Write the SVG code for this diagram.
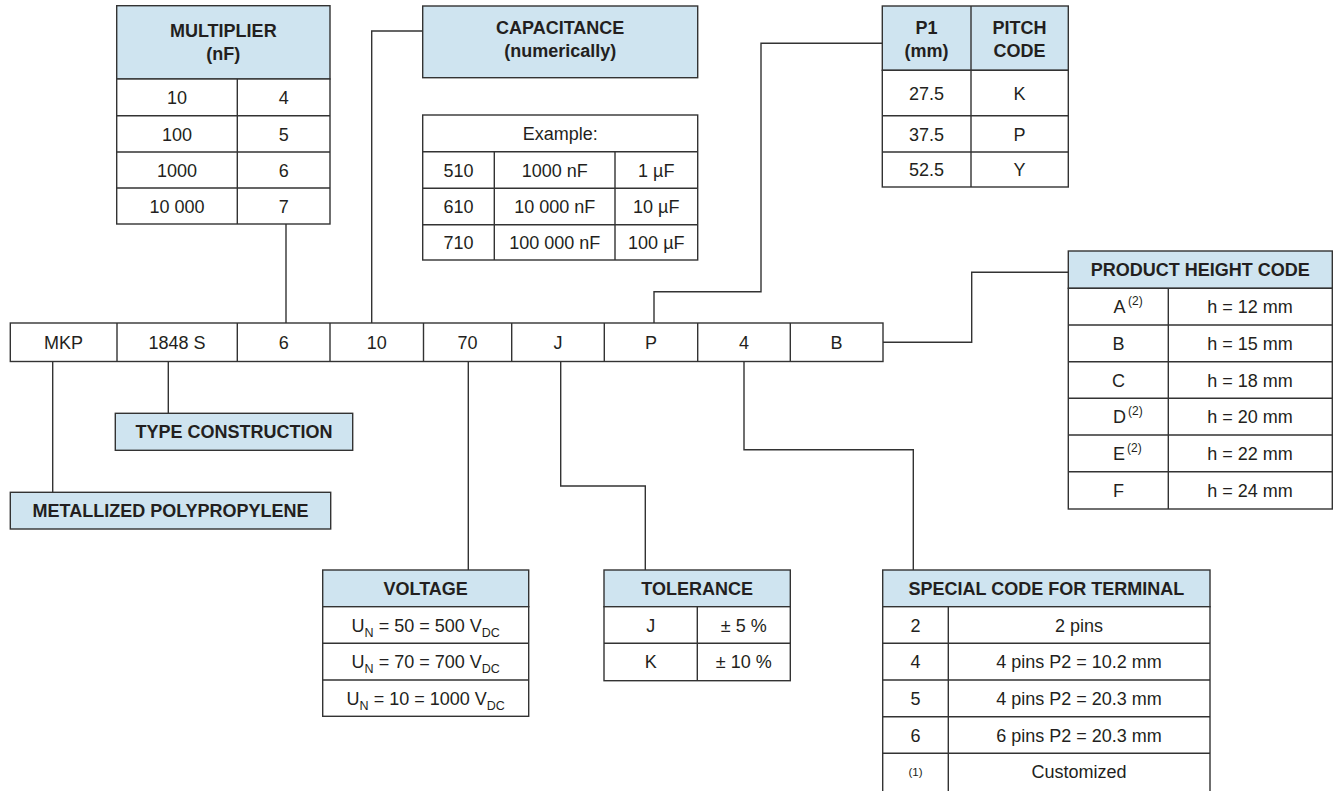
<svg xmlns="http://www.w3.org/2000/svg" width="1333" height="791" viewBox="0 0 1333 791">
<style>
  .b{fill:#fff;stroke:#333;stroke-width:1.4}
  .h{fill:#cfe4f0;stroke:#333;stroke-width:1.4}
  .l{fill:none;stroke:#333;stroke-width:1.4}
  .c{stroke:#333;stroke-width:1.4;fill:none}
  text{font-family:"Liberation Sans",Arial,sans-serif;font-size:18px;fill:#231f20;text-anchor:middle}
  .t{font-weight:bold;font-size:18px}
  .s{font-size:11.5px}
  .st{font-size:12px;text-anchor:start}
</style>
<rect width="1333" height="791" fill="#fff"/>

<g id="connectors">
  <polyline class="c" points="286,224 286,323"/>
  <polyline class="c" points="422.7,31 371.7,31 371.7,323"/>
  <polyline class="c" points="654,323 654,291.7 761,291.7 761,43.3 882.3,43.3"/>
  <polyline class="c" points="883,342.3 971.7,342.3 971.7,272.3 1068.3,272.3"/>
  <polyline class="c" points="168.3,361.5 168.3,413.3"/>
  <polyline class="c" points="52.7,361.5 52.7,492.3"/>
  <polyline class="c" points="468.3,361.5 468.3,570"/>
  <polyline class="c" points="560.7,361.5 560.7,486 645.3,486 645.3,570"/>
  <polyline class="c" points="744,361.5 744,449.7 913.3,449.7 913.3,570"/>
</g>

<g id="part-number">
  <rect class="b" x="10.3" y="323" width="872.7" height="38.5"/>
  <path class="l" d="M117,323V361.5M237.3,323V361.5M330,323V361.5M423.5,323V361.5M511.7,323V361.5M604.3,323V361.5M697.7,323V361.5M790.3,323V361.5"/>
  <text x="63.5" y="349">MKP</text>
  <text x="177" y="349">1848 S</text>
  <text x="283.7" y="349">6</text>
  <text x="376.8" y="349">10</text>
  <text x="467.6" y="349">70</text>
  <text x="558" y="349">J</text>
  <text x="651" y="349">P</text>
  <text x="744" y="349">4</text>
  <text x="836.5" y="349">B</text>
</g>

<g id="multiplier">
  <rect class="h" x="116.7" y="5.7" width="213.3" height="73.3"/>
  <rect class="b" x="116.7" y="79" width="213.3" height="145"/>
  <path class="l" d="M116.7,115.7H330M116.7,152H330M116.7,188H330M237.3,79V224"/>
  <text class="t" x="223.3" y="36.5">MULTIPLIER</text>
  <text class="t" x="223.3" y="59.5">(nF)</text>
  <text x="177" y="104">10</text><text x="283.7" y="104">4</text>
  <text x="177" y="140.5">100</text><text x="283.7" y="140.5">5</text>
  <text x="177" y="176.7">1000</text><text x="283.7" y="176.7">6</text>
  <text x="177" y="212.7">10 000</text><text x="283.7" y="212.7">7</text>
</g>

<g id="capacitance">
  <rect class="h" x="422.7" y="6" width="275" height="71.7"/>
  <text class="t" x="560.2" y="34.3">CAPACITANCE</text>
  <text class="t" x="560.2" y="56.5">(numerically)</text>
</g>

<g id="example">
  <rect class="b" x="422.7" y="115" width="275" height="145"/>
  <path class="l" d="M422.7,151.7H697.7M422.7,188.3H697.7M422.7,224.7H697.7M494.3,151.7V260M615,151.7V260"/>
  <text x="560.2" y="140">Example:</text>
  <text x="458.5" y="176.7">510</text><text x="554.7" y="176.7">1000 nF</text><text x="656.3" y="176.7">1 µF</text>
  <text x="458.5" y="213.2">610</text><text x="554.7" y="213.2">10 000 nF</text><text x="656.3" y="213.2">10 µF</text>
  <text x="458.5" y="249.2">710</text><text x="554.7" y="249.2">100 000 nF</text><text x="656.3" y="249.2">100 µF</text>
</g>

<g id="pitch">
  <rect class="h" x="882.3" y="6" width="186" height="64.3"/>
  <rect class="b" x="882.3" y="70.3" width="186" height="116.7"/>
  <path class="l" d="M882.3,115.7H1068.3M882.3,152H1068.3M971,6V187"/>
  <text class="t" x="926.5" y="34.3">P1</text>
  <text class="t" x="926.5" y="57">(mm)</text>
  <text class="t" x="1019.5" y="34.3">PITCH</text>
  <text class="t" x="1019.5" y="57">CODE</text>
  <text x="926.5" y="99.7">27.5</text><text x="1019.5" y="99.7">K</text>
  <text x="926.5" y="140.5">37.5</text><text x="1019.5" y="140.5">P</text>
  <text x="926.5" y="176.2">52.5</text><text x="1019.5" y="176.2">Y</text>
</g>

<g id="product-height">
  <rect class="h" x="1068.3" y="251" width="264" height="37.3"/>
  <rect class="b" x="1068.3" y="288.3" width="264" height="220.7"/>
  <path class="l" d="M1068.3,325H1332.3M1068.3,361.7H1332.3M1068.3,398.3H1332.3M1068.3,435H1332.3M1068.3,471.7H1332.3M1168.3,288.3V509"/>
  <text class="t" x="1200.3" y="276">PRODUCT HEIGHT CODE</text>
  <text x="1119.5" y="313.4">A</text><text class="st" x="1128" y="305">(2)</text><text x="1250" y="313.4">h = 12 mm</text>
  <text x="1118.5" y="350">B</text><text x="1250" y="350">h = 15 mm</text>
  <text x="1118.5" y="386.7">C</text><text x="1250" y="386.7">h = 18 mm</text>
  <text x="1119.5" y="423.4">D</text><text class="st" x="1128" y="415">(2)</text><text x="1250" y="423.4">h = 20 mm</text>
  <text x="1119" y="460">E</text><text class="st" x="1127" y="451.5">(2)</text><text x="1250" y="460">h = 22 mm</text>
  <text x="1118.5" y="497">F</text><text x="1250" y="497">h = 24 mm</text>
</g>

<g id="type-construction">
  <rect class="h" x="115.3" y="413.3" width="237.4" height="37"/>
  <text class="t" x="234" y="438.3">TYPE CONSTRUCTION</text>
</g>

<g id="metallized">
  <rect class="h" x="10.3" y="492.3" width="320.4" height="36.7"/>
  <text class="t" x="170.5" y="517">METALLIZED POLYPROPYLENE</text>
</g>

<g id="voltage">
  <rect class="h" x="322.7" y="570" width="206" height="36.7"/>
  <rect class="b" x="322.7" y="606.7" width="206" height="109.6"/>
  <path class="l" d="M322.7,643.3H528.7M322.7,680H528.7"/>
  <text class="t" x="425.7" y="595">VOLTAGE</text>
  <text x="425.7" y="631.5">U<tspan font-size="12.5" dy="5">N</tspan><tspan dy="-5"> = 50 = 500 V</tspan><tspan font-size="12.5" dy="5">DC</tspan></text>
  <text x="425.7" y="668">U<tspan font-size="12.5" dy="5">N</tspan><tspan dy="-5"> = 70 = 700 V</tspan><tspan font-size="12.5" dy="5">DC</tspan></text>
  <text x="425.7" y="704.5">U<tspan font-size="12.5" dy="5">N</tspan><tspan dy="-5"> = 10 = 1000 V</tspan><tspan font-size="12.5" dy="5">DC</tspan></text>
</g>

<g id="tolerance">
  <rect class="h" x="604" y="570" width="186.3" height="36.7"/>
  <rect class="b" x="604" y="606.7" width="186.3" height="74"/>
  <path class="l" d="M604,643.3H790.3M697.3,606.7V680.7"/>
  <text class="t" x="697.2" y="595">TOLERANCE</text>
  <text x="650.7" y="631.7">J</text><text x="743.8" y="631.7">± 5 %</text>
  <text x="650.7" y="668.2">K</text><text x="743.8" y="668.2">± 10 %</text>
</g>

<g id="terminal">
  <rect class="h" x="882.7" y="570" width="327.3" height="36.7"/>
  <rect class="b" x="882.7" y="606.7" width="327.3" height="190"/>
  <path class="l" d="M882.7,643.3H1210M882.7,680H1210M882.7,716.7H1210M882.7,753.3H1210M948.3,606.7V796"/>
  <text class="t" x="1046.3" y="595">SPECIAL CODE FOR TERMINAL</text>
  <text x="915.5" y="631.7">2</text><text x="1079" y="631.7">2 pins</text>
  <text x="915.5" y="668.4">4</text><text x="1079" y="668.4">4 pins P2 = 10.2 mm</text>
  <text x="915.5" y="705">5</text><text x="1079" y="705">4 pins P2 = 20.3 mm</text>
  <text x="915.5" y="741.7">6</text><text x="1079" y="741.7">6 pins P2 = 20.3 mm</text>
  <text class="s" x="915.5" y="776">(1)</text><text x="1079" y="778.4">Customized</text>
</g>
</svg>
